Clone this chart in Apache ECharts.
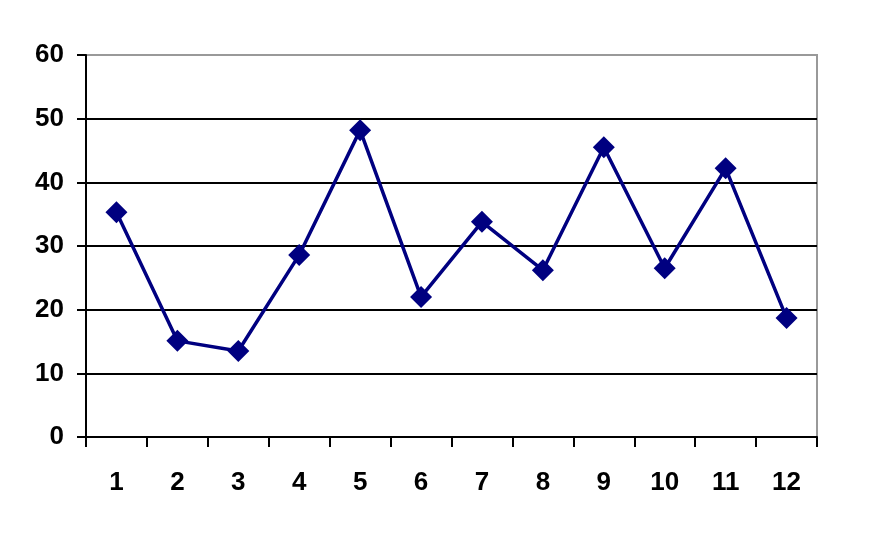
<!DOCTYPE html>
<html>
<head>
<meta charset="utf-8">
<script src="https://cdn.jsdelivr.net/npm/echarts@6/dist/echarts.min.js"></script>
<style>
  html, body { margin: 0; padding: 0; background: #fff; }
  #chart { width: 878px; height: 539px; }
</style>
</head>
<body>
<div id="chart"></div>
<script>
const categories = ['1', '2', '3', '4', '5', '6', '7', '8', '9', '10', '11', '12'];
const values = [35.3, 15.1, 13.5, 28.6, 48.2, 22.0, 33.8, 26.2, 45.5, 26.5, 42.2, 18.7];
const yTicks = [0, 10, 20, 30, 40, 50, 60];

const labelFont = {
  fontFamily: 'Liberation Sans',
  fontWeight: 'bold',
  fontSize: 26,
  color: '#000'
};

let option = {
  animation: false,
  grid: {
    left: 86,
    right: 61,
    top: 55,
    bottom: 102,
    show: true,
    borderColor: '#999',
    borderWidth: 2
  },
  xAxis: {
    type: 'category',
    data: categories,
    boundaryGap: true,
    axisLine: { lineStyle: { color: '#000', width: 2 } },
    axisTick: { show: true, length: 10, lineStyle: { color: '#000', width: 2 } },
    axisLabel: Object.assign({ margin: 33, interval: 0 }, labelFont),
    splitLine: { show: false }
  },
  yAxis: {
    type: 'value',
    min: yTicks[0],
    max: yTicks[yTicks.length - 1],
    interval: 10,
    axisLine: { show: true, lineStyle: { color: '#000', width: 2 } },
    axisTick: { show: true, length: 9, lineStyle: { color: '#000', width: 2 } },
    axisLabel: Object.assign({ margin: 22 }, labelFont),
    splitLine: {
      show: true,
      lineStyle: {
        color: ['#000', '#000', '#000', '#000', '#000', '#000', '#999'],
        width: 2
      }
    }
  },
  series: [{
    type: 'line',
    data: values,
    symbol: 'diamond',
    symbolSize: 22,
    itemStyle: { color: '#000080' },
    lineStyle: { color: '#000080', width: 3.5 }
  }]
};

const myChart = echarts.init(document.getElementById('chart'));
myChart.setOption(option);
</script>
</body>
</html>
